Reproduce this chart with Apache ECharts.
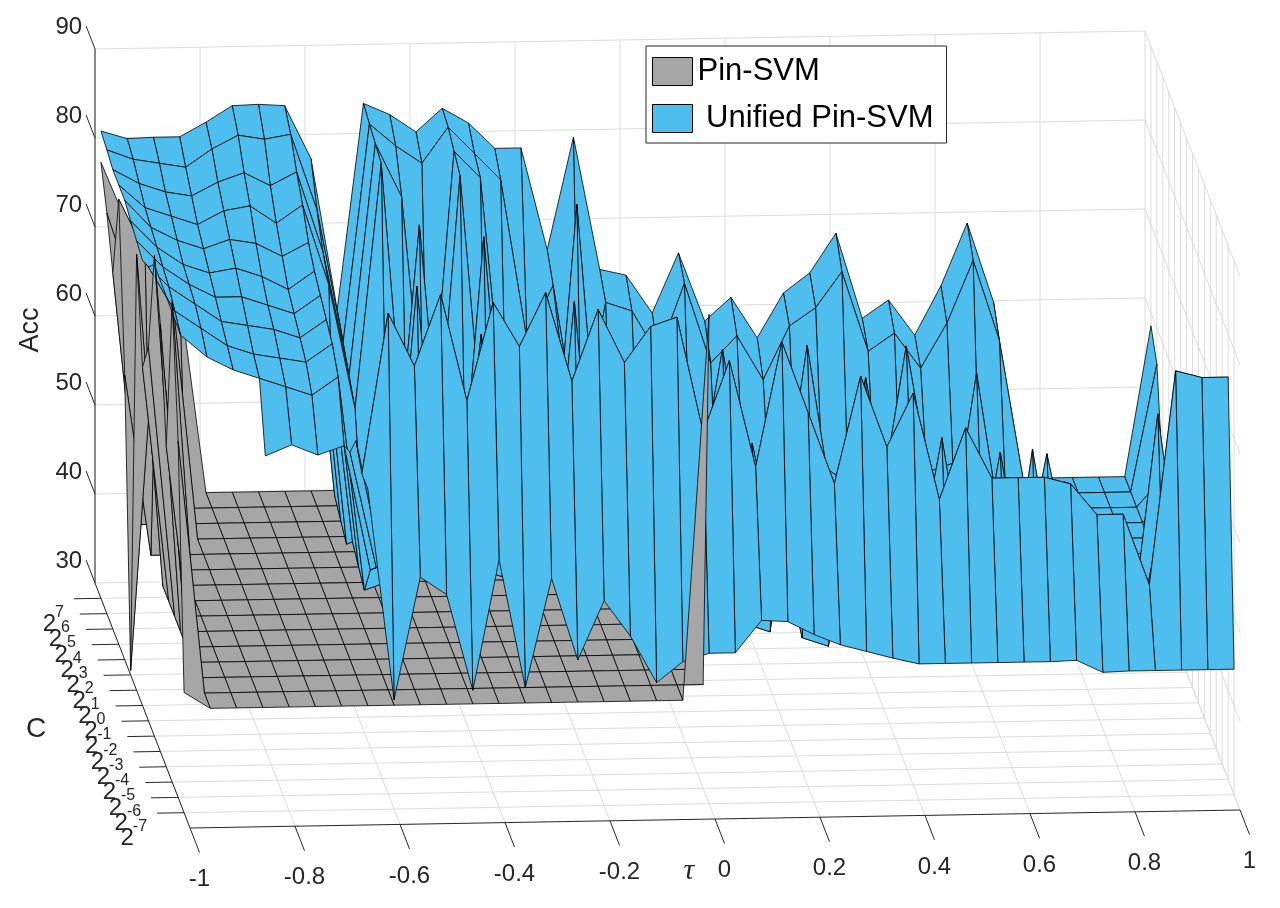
<!DOCTYPE html>
<html>
<head>
<meta charset="utf-8">
<script src="https://cdn.jsdelivr.net/npm/echarts@6/dist/echarts.min.js"></script>
<style>html,body{margin:0;padding:0;background:#fff}#c{width:1280px;height:908px}</style>
</head>
<body>
<div id="c"></div>
<script>
// ---------- axes / categories ----------
const tau = [-1,-0.95,-0.9,-0.85,-0.8,-0.75,-0.7,-0.65,-0.6,-0.55,-0.5,-0.45,-0.4,-0.35,-0.3,-0.25,-0.2,-0.15,-0.1,-0.05,0,0.05,0.1,0.15,0.2,0.25,0.3,0.35,0.4,0.45,0.5,0.55,0.6,0.65,0.7,0.75,0.8,0.85,0.9,0.95,1];
const cExp = [-7,-6,-5,-4,-3,-2,-1,0,1,2,3,4,5,6,7];
const tauTicks = [-1,-0.8,-0.6,-0.4,-0.2,0,0.2,0.4,0.6,0.8,1];
const tauTickLabels = ['-1','-0.8','-0.6','-0.4','-0.2','0','0.2','0.4','0.6','0.8','1'];
const accTicks = [30,40,50,60,70,80,90];
const accTickLabels = ['30','40','50','60','70','80','90'];

// ---------- Pin-SVM (grey) : one row per C, columns follow tau ----------
const pin_Cm7 = [43.5, 41.67,41.67,41.67,41.67,41.67, 41.67,41.67,41.67,41.67,41.67, 41.67,41.67,41.67,41.67,41.67, 41.67,41.67,41.67,41.67, 85, null,null,null,null,null, null,null,null,null,null, null,null,null,null,null, null,null,null,null,null];
const pin_Cm6 = [70, 41.67,41.67,41.67,41.67,41.67, 41.67,41.67,41.67,41.67,41.67, 41.67,41.67,41.67,41.67,41.67, 41.67,41.67,41.67,41.67,41.67, null,null,null,null,null, null,null,null,null,null, null,null,null,null,null, null,null,null,null,null];
const pin_Cm5 = [84, 41.67,41.67,41.67,41.67,41.67, 41.67,41.67,41.67,41.67,41.67, 41.67,41.67,41.67,41.67,41.67, 41.67,41.67,41.67,41.67,41.67, null,null,null,null,null, null,null,null,null,null, null,null,null,null,null, null,null,null,null,null];
const pin_Cm4 = [66, 41.67,41.67,41.67,41.67,41.67, 41.67,41.67,41.67,41.67,41.67, 41.67,41.67,41.67,41.67,41.67, 41.67,41.67,41.67,41.67,41.67, null,null,null,null,null, null,null,null,null,null, null,null,null,null,null, null,null,null,null,null];
const pin_Cm3 = [78, 41.67,41.67,41.67,41.67,41.67, 41.67,41.67,41.67,41.67,41.67, 41.67,41.67,41.67,41.67,41.67, 41.67,41.67,41.67,41.67,41.67, null,null,null,null,null, null,null,null,null,null, null,null,null,null,null, null,null,null,null,null];
const pin_Cm2 = [84, 41.67,41.67,41.67,41.67,41.67, 41.67,41.67,41.67,41.67,41.67, 41.67,41.67,41.67,41.67,41.67, 41.67,41.67,41.67,41.67,41.67, null,null,null,null,null, null,null,null,null,null, null,null,null,null,null, null,null,null,null,null];
const pin_Cm1 = [72, 41.67,41.67,41.67,41.67,41.67, 41.67,41.67,41.67,41.67,41.67, 41.67,41.67,41.67,41.67,41.67, 41.67,41.67,41.67,41.67,41.67, null,null,null,null,null, null,null,null,null,null, null,null,null,null,null, null,null,null,null,null];
const pin_C0  = [68, 41.67,41.67,41.67,41.67,41.67, 41.67,41.67,41.67,41.67,41.67, 41.67,41.67,41.67,41.67,41.67, 41.67,41.67,41.67,41.67,41.67, null,null,null,null,null, null,null,null,null,null, null,null,null,null,null, null,null,null,null,null];
const pin_C1  = [79, 41.67,41.67,41.67,41.67,41.67, 41.67,41.67,41.67,41.67,41.67, 41.67,41.67,41.67,41.67,41.67, 41.67,41.67,41.67,41.67,41.67, null,null,null,null,null, null,null,null,null,null, null,null,null,null,null, null,null,null,null,null];
const pin_C2  = [30.5, 72, 41.67,41.67,41.67,41.67,41.67, 41.67,41.67,41.67,41.67,41.67, 41.67,41.67,41.67,41.67,41.67, 41.67,41.67,41.67,41.67, null,null,null,null,null, null,null,null,null,null, null,null,null,null,null, null,null,null,null,null];
const pin_C3  = [62, 41.67,41.67,41.67,41.67,41.67, 41.67,41.67,41.67,41.67,41.67, 41.67,41.67,41.67,41.67,41.67, 41.67,41.67,41.67,41.67,41.67, null,null,null,null,null, null,null,null,null,null, null,null,null,null,null, null,null,null,null,null];
const pin_C4  = [80, 74, 70, 41.67,41.67,41.67,41.67,41.67, 41.67,41.67,41.67,41.67,41.67, 41.67,41.67,41.67,41.67,41.67, 41.67,41.67,41.67, null,null,null,null,null, null,null,null,null,null, null,null,null,null,null, null,null,null,null,null];
const pin_C5  = [70, 41.67,41.67,41.67,41.67,41.67, 41.67,41.67,41.67,41.67,41.67, 41.67,41.67,41.67,41.67,41.67, 41.67,41.67,41.67,41.67,41.67, null,null,null,null,null, null,null,null,null,null, null,null,null,null,null, null,null,null,null,null];
const pin_C6  = [75, 66, 72, 41.67,41.67,41.67,41.67,41.67, 41.67,41.67,41.67,41.67,41.67, 41.67,41.67,41.67,41.67,41.67, 41.67,41.67,41.67, null,null,null,null,null, null,null,null,null,null, null,null,null,null,null, null,null,null,null,null];
const pin_C7  = [79, 72, 68, 64, 41.67,41.67,41.67,41.67,41.67, 41.67,41.67,41.67,41.67,41.67, 41.67,41.67,41.67,41.67,41.67, 41.67,41.67, null,null,null,null,null, null,null,null,null,null, null,null,null,null,null, null,null,null,null,null];

// ---------- Unified Pin-SVM (blue) ----------
const uni_Cm7 = [null,null,null,null,null,null,null, 66, 42.3,56,54,43.2,57.8,43.4,55.6,46.4,53,49,43.7, 46,46.9,46.9,50.5,50.3,48.8,47.6,46.8,46,45.3,45.3,45.3,45.3,45.3,45.3,45.4, 44, 44.1,44.1, 44.1,44.1,44.1];
const uni_Cm6 = [null,null,null,null,null,null,null, 66, 84,78,86,74,85,80,86,76,84,78,82, 83,70,78,66,80,72,64,76,68,74,62,70,64.3,64.3,64.3,63.5, 60, 60,52, 76,75.2,75.2];
const uni_Cm5 = [null,null,null,null,null,null,null, 68, 54,55,53,54,56,55,54,53,55,54,56, 46,60,45,46,58,45,44,62,45,44,60,45,46,45,44,62, 50, 52,48, 62,45,68];
const uni_Cm4 = [null,null,null,null,null,null,null, 65, 52,53,51,52,78,53,52,51,53,52,53, 62,44,46,45,44,64,45,44,46,45,44,58,45,44,64,46, 44, 41.7,41.7, 46,64,45];
const uni_Cm3 = [null,null,null,null, 63,64.2,63,64, 50,51,50,51,50,49,51,50,49,51,50, 44,45,60,44,46,45,62,45,44,60,45,44,46,62,44,45, 45, 41.7,41.7, 66,44,46];
const uni_Cm2 = [83,75,72.5,71,70,69,68,70, 46,47,80,48,46,48,47,48,78,46,48, 45,46,45,62,45,44,46,58,45,44,46,62,44,46,45,60, 46, 41.7,41.7, 44,46,62];
const uni_Cm1 = [81,76,74,72,71,70.5,70,72, 47,48,47,46,48,47,46,47,46,48,47, 46,45,44,46,60,46,45,44,62,46,45,44,58,45,46,44, 44, 41.7,41.7, 46,45,44];
const uni_C0  = [80,77,75,73,72.5,72,71,73, 48,47,46,48,47,82,48,46,48,47,46, 44,62,46,45,44,45,44,46,45,44,60,45,44,46,44,45, 41.7,41.7,41.7,41.7,41.7, 46];
const uni_C1  = [80.5,77.5,75.5,74,74,73,72,74, 46,48,47,46,48,47,46,48,47,46,48, 45,44,45,44,46,44,60,44,46,45,44,46,45,64,45,44, 41.7,41.7,41.7,41.7,41.7, 44];
const uni_C2  = [81,78,76,75,75.5,74.5,73,75, 47,46,48,80,47,46,48,46,47,82,46, 46,45,63,46,44,45,46,45,44,62,45,44,46,45,44,46, 41.7,41.7,41.7,41.7,41.7, 45];
const uni_C3  = [81.6,78.5,77,76,77,76.5,75,76.5, 48,47,46,48,47,46,48,47,46,48,47, 44,46,45,44,45,46,44,64,45,44,46,45,44,46,45,44, 41.7,41.7,41.7,41.7,41.7, 46];
const uni_C4  = [81.6,79,78,77,78.5,79,77,79, 70,56,83.5,47,46,82,48,47,50,48,47, 45,44,46,45,62,44,45,44,46,45,44,62,45,44,46,45, 41.7,41.7,41.7,41.7,41.7, 44];
const uni_C5  = [81.6,80,79,78.5,80,81,79.5,81, 72,58,84,78,48,83,80,50,48,62,46, 44,46,45,47,44,46,45,46,47,45,46,44,46,47,45,44, 41.7,41.7,41.7,41.7,41.7, 45];
const uni_C6  = [82.1,81,80.5,80,82,83.5,83,83.5, 75,60,84.5,82,80,84,81,78,60,66,48, 64,63,58,66,57,60,55,61,63,67,58,60,56,61,68,59, 41.7,41.7,41.7,41.7,41.7, 56];
const uni_C7  = [82.5,81.6,81.7,81.7,83.3,85.1,85.2,85, 79,62,85.1,83.8,81.8,84.4,82.7,79.8,79.8,68.3,80.9, 66,65.3,61,67.7,60,62.6,58,63,65.2,69.6,60,62,58,63.5,70.5,61.6, 41.7,41.7,41.7,41.7,41.7, 58.6];

const pinRows = [pin_Cm7,pin_Cm6,pin_Cm5,pin_Cm4,pin_Cm3,pin_Cm2,pin_Cm1,pin_C0,pin_C1,pin_C2,pin_C3,pin_C4,pin_C5,pin_C6,pin_C7];
const uniRows = [uni_Cm7,uni_Cm6,uni_Cm5,uni_Cm4,uni_Cm3,uni_Cm2,uni_Cm1,uni_C0,uni_C1,uni_C2,uni_C3,uni_C4,uni_C5,uni_C6,uni_C7];

// ---------- 3D box projection (axis limits: tau [-1,1], log2 C [-8,8], Acc [30,90]) ----------
const view = {x0:190, y0:828, tx:525, ty:-9, cx:-5.9375, cy:-15.3125, zy:-8.9};
function P(t, c, z){
  return [view.x0 + view.tx*(t+1) + view.cx*(c+8),
          view.y0 + view.ty*(t+1) + view.cy*(c+8) + view.zy*(z-30)];
}

// painter's order: back rows first, far columns first, lower face first inside a cell
const quads = [[],[]];
let order = 0;
for (let i = cExp.length-2; i >= 0; i--) {
  for (let j = tau.length-2; j >= 0; j--) {
    const cell = [];
    [pinRows, uniRows].forEach((rows, s) => {
      const v = [rows[i][j], rows[i][j+1], rows[i+1][j+1], rows[i+1][j]];
      if (v.every(x => x !== null && x !== undefined)) cell.push({s, i, j, m: Math.max.apply(null, v)});
    });
    cell.sort((a,b) => a.m - b.m);
    cell.forEach(q => { quads[q.s].push([q.i, q.j, order++]); });
  }
}

const FONT = '"Liberation Sans", Arial, Helvetica, sans-serif';
const AX = '#262626';
const GRID = '#dcdcdc';

function surfaceRender(rows, color){
  return function(params, api){
    const i = api.value(0), j = api.value(1), k = api.value(2);
    const corners = [[i,j],[i,j+1],[i+1,j+1],[i+1,j]];
    const pts = corners.map(([a,b]) => api.coord(P(tau[b], cExp[a], rows[a][b])));
    return {type:'polygon', z2:k, shape:{points:pts},
            style:{fill:color, stroke:'#000', lineWidth:0.8, lineJoin:'round'}};
  };
}

const measureCtx = document.createElement('canvas').getContext('2d');
function textW(str, font){ measureCtx.font = font; return measureCtx.measureText(str).width; }

function axesRender(params, api){
  const ch = [];
  const C = p => api.coord(p);
  const line = (a,b,color,w) => ch.push({type:'line', shape:{x1:a[0],y1:a[1],x2:b[0],y2:b[1]}, style:{stroke:color, lineWidth:w}});
  const text = (str,x,y,font,align,va) => ch.push({type:'text', style:{text:str, x:x, y:y, font:font, fill:AX, align:align, verticalAlign:va, textAlign:align, textVerticalAlign:va}});
  // floor grid
  tauTicks.forEach(t => line(C(P(t,-8,30)), C(P(t,8,30)), GRID, 1));
  cExp.forEach(c => line(C(P(-1,c,30)), C(P(1,c,30)), GRID, 1));
  // back wall grid
  tauTicks.forEach(t => line(C(P(t,8,30)), C(P(t,8,90)), GRID, 1));
  accTicks.forEach(z => line(C(P(-1,8,z)), C(P(1,8,z)), GRID, 1));
  // right wall grid
  cExp.forEach(c => line(C(P(1,c,30)), C(P(1,c,90)), GRID, 1));
  accTicks.forEach(z => line(C(P(1,-8,z)), C(P(1,8,z)), GRID, 1));
  // axis lines
  line(C(P(-1,-8,30)), C(P(1,-8,30)), AX, 1);
  line(C(P(-1,-8,30)), C(P(-1,8,30)), AX, 1);
  line(C(P(-1,8,30)), C(P(-1,8,90)), AX, 1);
  // tau ticks + labels
  const f24 = '24px ' + FONT;
  tauTicks.forEach((t,n) => {
    const a = C(P(t,-8,30)), b = C(P(t,-9.6,30));
    line(a,b,AX,1);
    text(tauTickLabels[n], b[0], b[1]+27, f24, 'center', 'middle');
  });
  // C ticks + labels 2^k
  const f16 = '16px ' + FONT;
  cExp.forEach(c => {
    const a = C(P(-1,c,30)), b = C(P(-1.0514,c,30));
    line(a,b,AX,1);
    const ex = String(c);
    const xr = b[0] - 10;
    const ew = textW(ex, f16);
    text(ex, xr, a[1]+14, f16, 'right', 'middle');
    text('2', xr - ew + 1, a[1]+26, f24, 'right', 'middle');
  });
  // Acc ticks + labels
  accTicks.forEach((z,n) => {
    const a = C(P(-1,8,z)), b = C(P(-1,9.5,z));
    line(a,b,AX,1);
    text(accTickLabels[n], b[0]-4, b[1]+1, f24, 'right', 'middle');
  });
  // axis titles
  const tp = C(P(-0.05,-8,30));
  text('τ', tp[0], tp[1]+52, 'italic 30px "Liberation Serif", "DejaVu Serif", serif', 'center', 'middle');
  ch.push({type:'text', x:31, y:330, rotation:Math.PI/2,
           style:{text:'Acc', x:0, y:0, font:'27px ' + FONT, fill:AX, align:'center', verticalAlign:'middle', textAlign:'center', textVerticalAlign:'middle'}});
  text('C', 36, 729, '28px ' + FONT, 'center', 'middle');
  return {type:'group', children:ch};
}

const chart = echarts.init(document.getElementById('c'), null, {renderer:'canvas', width:1280, height:908});
chart.setOption({
  animation:false,
  backgroundColor:'#fff',
  grid:{left:0, right:0, top:0, bottom:0, containLabel:false},
  xAxis:{type:'value', min:0, max:1280, show:false},
  yAxis:{type:'value', min:0, max:908, inverse:true, show:false},
  legend:{
    orient:'vertical', left:646, top:46, selectedMode:false,
    padding:[10,13,9,6], itemWidth:40, itemHeight:28, itemGap:16,
    backgroundColor:'#fff', borderColor:AX, borderWidth:1, borderRadius:0,
    textStyle:{fontSize:31, fontFamily:'"Liberation Sans", Arial, sans-serif', color:'#000', lineHeight:28},
    formatter: name => name === 'Unified Pin-SVM' ? ' ' + name : name,
    data:[
      {name:'Pin-SVM', icon:'rect', itemStyle:{color:'#a6a6a6', borderColor:'#000', borderWidth:1}},
      {name:'Unified Pin-SVM', icon:'rect', itemStyle:{color:'#4dbeee', borderColor:'#000', borderWidth:1}}
    ]
  },
  series:[
    {type:'custom', name:'axes', z:1, silent:true, clip:false, data:[[0,0]], renderItem:axesRender},
    {type:'custom', name:'Pin-SVM', z:2, silent:true, clip:false, itemStyle:{color:'#a6a6a6'}, data:quads[0], renderItem:surfaceRender(pinRows,'#a6a6a6')},
    {type:'custom', name:'Unified Pin-SVM', z:2, silent:true, clip:false, itemStyle:{color:'#4dbeee'}, data:quads[1], renderItem:surfaceRender(uniRows,'#4dbeee')}
  ]
});
</script>
</body>
</html>
